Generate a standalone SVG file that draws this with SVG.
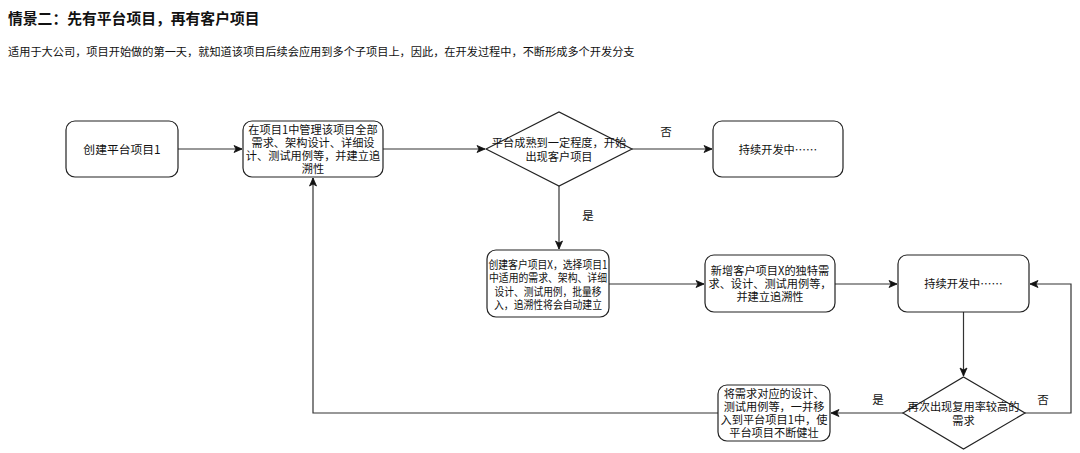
<svg xmlns="http://www.w3.org/2000/svg" width="1080" height="453" viewBox="0 0 1080 453">
<style>
text{font-family:"Noto Sans CJK SC","Noto Sans",sans-serif;fill:#111;}
.t{font-size:11.2px;text-anchor:middle;}
.lbl{font-size:11.5px;text-anchor:middle;}
.box{fill:#fff;stroke:#222;stroke-width:1.2;}
.con{fill:none;stroke:#333;stroke-width:1.2;}
</style>
<defs>
<marker id="arr" markerUnits="userSpaceOnUse" markerWidth="10" markerHeight="10" viewBox="0 0 10 10" refX="9" refY="5" orient="auto">
<path d="M1,1.5 L9,5 L1,8.5 L3,5 Z" fill="#111" stroke="#111" stroke-width="0.8"/>
</marker>
</defs>
<rect width="1080" height="453" fill="#fff"/>
<text x="8" y="24" style="font-size:14.8px;font-weight:bold;">情景二：先有平台项目，再有客户项目</text>
<text x="8" y="56" style="font-size:11.2px;">适用于大公司，项目开始做的第一天，就知道该项目后续会应用到多个子项目上，因此，在开发过程中，不断形成多个开发分支</text>

<g id="connectors">
<path class="con" d="M178,149 L242,149" marker-end="url(#arr)"/>
<path class="con" d="M383,149 L485,149" marker-end="url(#arr)"/>
<path class="con" d="M632,149 L712,149" marker-end="url(#arr)"/>
<path class="con" d="M559,186 L559,249" marker-end="url(#arr)"/>
<path class="con" d="M609,284 L704,284" marker-end="url(#arr)"/>
<path class="con" d="M835,284 L897,284" marker-end="url(#arr)"/>
<path class="con" d="M963.5,312 L963.5,376" marker-end="url(#arr)"/>
<path class="con" d="M1025,413 L1071,413 L1071,284 L1030,284" marker-end="url(#arr)"/>
<path class="con" d="M903,413 L831,413" marker-end="url(#arr)"/>
<path class="con" d="M718,413 L313,413 L313,178" marker-end="url(#arr)"/>
<text class="lbl" x="666" y="136">否</text>
<text class="lbl" x="588" y="220">是</text>
<text class="lbl" x="878" y="404">是</text>
<text class="lbl" x="1043" y="404">否</text>
</g>

<g id="n1">
<rect class="box" x="66" y="121" width="112" height="56" rx="9"/>
<text class="t" x="122" y="153.5" style="font-size:11.8px;">创建平台项目1</text>
</g>
<g id="n2">
<rect class="box" x="243" y="121" width="140" height="56" rx="9"/>
<text class="t" x="313" y="133.7">在项目1中管理该项目全部</text>
<text class="t" x="313" y="146.9">需求、架构设计、详细设</text>
<text class="t" x="313" y="160.1">计、测试用例等，并建立追</text>
<text class="t" x="313" y="173.3">溯性</text>
</g>
<g id="n3">
<polygon class="box" points="486,149 559,112 632,149 559,186"/>
<text class="t" x="559" y="147">平台成熟到一定程度，开始</text>
<text class="t" x="559" y="161">出现客户项目</text>
</g>
<g id="n4">
<rect class="box" x="713" y="121" width="130" height="56" rx="9"/>
<text class="t" x="778" y="153.5">持续开发中……</text>
</g>
<g id="n5">
<rect class="box" x="487" y="250" width="122" height="67" rx="9"/>
<text class="t" x="548" y="269.2" textLength="119" lengthAdjust="spacingAndGlyphs">创建客户项目X，选择项目1</text>
<text class="t" x="548" y="282.4" textLength="118" lengthAdjust="spacingAndGlyphs">中适用的需求、架构、详细</text>
<text class="t" x="548" y="295.6" textLength="107" lengthAdjust="spacingAndGlyphs">设计、测试用例，批量移</text>
<text class="t" x="548" y="308.8" textLength="108" lengthAdjust="spacingAndGlyphs">入，追溯性将会自动建立</text>
</g>
<g id="n6">
<rect class="box" x="705" y="255" width="130" height="57" rx="9"/>
<text class="t" x="770" y="274.8">新增客户项目X的独特需</text>
<text class="t" x="770" y="288">求、设计、测试用例等，</text>
<text class="t" x="770" y="301.2">并建立追溯性</text>
</g>
<g id="n7">
<rect class="box" x="898" y="255" width="131" height="57" rx="9"/>
<text class="t" x="963.5" y="288">持续开发中……</text>
</g>
<g id="n8">
<polygon class="box" points="903,413 963.5,377 1025,413 963.5,449"/>
<text class="t" x="963.5" y="411">再次出现复用率较高的</text>
<text class="t" x="963.5" y="425">需求</text>
</g>
<g id="n9">
<rect class="box" x="718" y="385" width="112" height="56" rx="9"/>
<text class="t" x="774" y="397.7">将需求对应的设计、</text>
<text class="t" x="774" y="410.9">测试用例等，一并移</text>
<text class="t" x="774" y="424.1">入到平台项目1中，使</text>
<text class="t" x="774" y="437.3">平台项目不断健壮</text>
</g>
</svg>
